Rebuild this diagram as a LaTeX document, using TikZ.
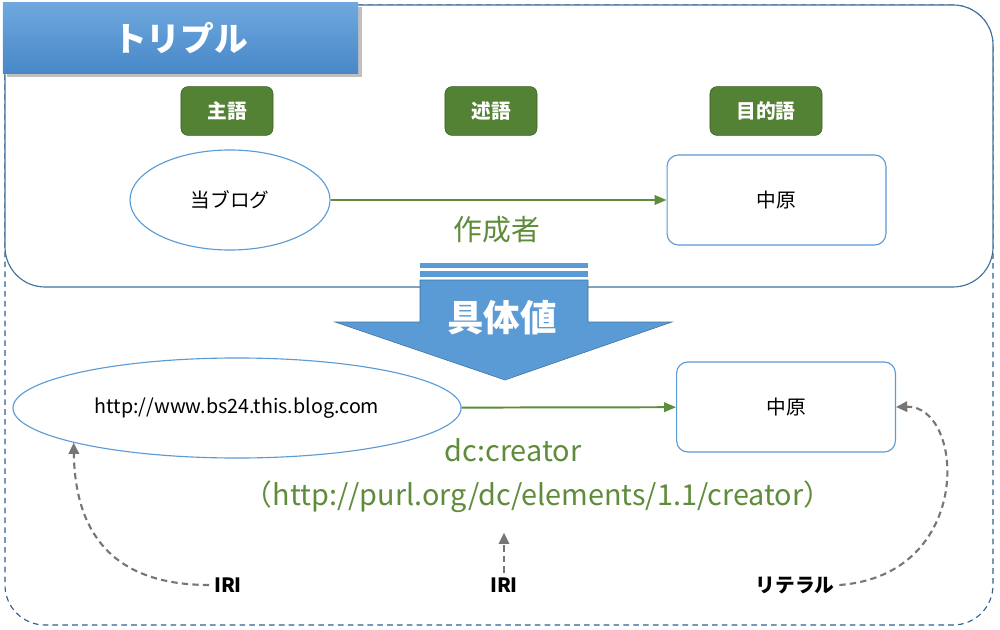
\documentclass[tikz,border=0pt]{standalone}
\usepackage{fontspec}
\setmainfont{Noto Sans CJK JP}
\usetikzlibrary{arrows.meta,positioning,shapes.geometric,shadows}
\definecolor{frameblue}{HTML}{41719C}
\definecolor{dashblue}{HTML}{2F5F8F}
\definecolor{lineblue}{HTML}{5B9BD5}
\definecolor{bannertop}{HTML}{6FA8DE}
\definecolor{bannerbot}{HTML}{4888C8}
\definecolor{tagfill}{HTML}{548235}
\definecolor{tagdraw}{HTML}{3B5E24}
\definecolor{textgreen}{HTML}{5E8C3A}
\definecolor{hintgray}{HTML}{767676}

\begin{document}
\begin{tikzpicture}[
    x=0.025cm, y=-0.025cm,
    tag/.style={rectangle, rounded corners=5pt, draw=tagdraw, fill=tagfill, text=white, font=\bfseries\fontsize{14}{16}\selectfont, minimum width=2.3cm, minimum height=1.22cm},
    res/.style={ellipse, draw=lineblue, thick, fill=white, font=\fontsize{14}{16}\selectfont, minimum height=2.5cm},
    lit/.style={rectangle, rounded corners=8pt, draw=lineblue, thick, fill=white, font=\fontsize{14}{16}\selectfont, minimum width=5.47cm, minimum height=2.25cm},
    pred/.style={text=textgreen, font=\fontsize{20.5}{24}\selectfont},
    kind/.style={font=\bfseries\fontsize{14}{16}\selectfont},
    arrow/.style={-{Triangle[length=3mm,width=2.4mm]}, draw=textgreen, line width=1.4pt},
    hint/.style={-{Triangle[length=2.8mm,width=2.6mm]}, draw=hintgray, dash pattern=on 4.5pt off 3pt, line width=1.5pt}
]
\useasboundingbox (0,0) rectangle (1000,630);
% frames
\draw[dashblue, dashed, dash pattern=on 4pt off 3pt, thick, rounded corners=1cm] (5,5) rectangle (993,625);
\draw[frameblue, thick, fill=white, rounded corners=1cm] (5,5) rectangle (993,287);
\node[rectangle, top color=bannertop, bottom color=bannerbot, draw=none, drop shadow, minimum width=8.875cm, minimum height=1.75cm, text=white, font=\bfseries\fontsize{24}{28}\selectfont] (title) at (180.5,38) {トリプル};

% pattern
\node[tag] (subj) at (227,111) {主語};
\node[tag] (verb) at (491,111) {述語};
\node[tag, minimum width=2.8cm] (objt) at (766,111) {目的語};
\node[res, minimum width=5cm] (blog) at (230,200) {当ブログ};
\node[lit] (name) at (776.5,200) {中原};
\draw[arrow] (blog) -- (name);
\node[pred] (made) at (497,230) {作成者};

% big arrow
\fill[lineblue] (420,263) rectangle (588,268);
\fill[lineblue] (420,271) rectangle (588,277);
\draw[frameblue, fill=lineblue] (420,280) -- (588,280) -- (588,322) -- (672,322) -- (505,380) -- (335,322) -- (420,322) -- cycle;
\node[text=white, font=\bfseries\fontsize{26}{30}\selectfont] (value) at (502,318) {具体値};

% instance
\node[res, minimum width=11.2cm] (url) at (237,408) {http://www.bs24.this.blog.com};
\node[lit] (name2) at (786,407) {中原};
\draw[arrow] (url) -- (name2);
\node[pred] (dc) at (513,450) {dc:creator};
\node[pred] (purl) at (538,497) {（http://purl.org/dc/elements/1.1/creator）};

% kinds
\node[kind] (iri1) at (228,585) {IRI};
\node[kind] (iri2) at (504,585) {IRI};
\node[kind] (ltr) at (795,585) {リテラル};
\draw[hint] (iri1.west) .. controls (110,585) and (75,530) .. (url.192);
\draw[hint] (iri2.north) -- ++(0,-40);
\draw[hint] (ltr.east) .. controls (975,575) and (965,405) .. (name2.east);
\end{tikzpicture}
\end{document}
